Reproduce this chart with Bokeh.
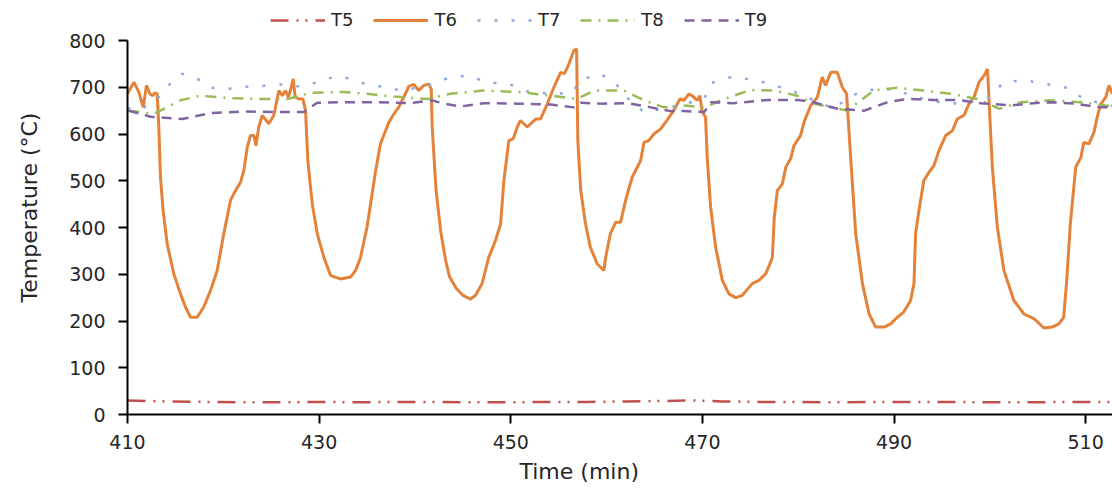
from bokeh.plotting import figure
from bokeh.models import Legend, LegendItem, FixedTicker, Range1d, Title
from bokeh.embed import file_html
from bokeh.resources import INLINE

# ---- data ----
t6_time = [410.0, 410.66, 411.18, 411.64, 411.98, 412.33, 412.64, 412.85, 413.1, 413.27, 413.44, 413.72,
           414.14, 414.83, 415.53, 416.05, 416.58, 417.28, 417.96, 418.66, 419.36, 420.05, 420.75, 421.27,
           421.8, 422.14, 422.5, 422.84, 423.2, 423.4, 423.7, 424.06, 424.75, 425.27, 425.8, 426.15, 426.5,
           426.77, 427.0, 427.3, 427.5, 427.88, 428.3, 428.58, 428.82, 429.28, 429.8, 430.5, 431.2, 432.23,
           433.28, 433.8, 434.32, 435.0, 435.9, 436.4, 436.93, 437.28, 437.8, 438.3, 438.84, 439.36, 439.9,
           440.4, 440.93, 441.45, 441.7, 441.8, 442.2, 442.7, 443.2, 443.6, 444.3, 445.0, 445.8, 446.33,
           447.0, 447.7, 448.4, 448.94, 449.28, 449.8, 450.26, 450.68, 451.02, 451.72, 452.6, 453.1, 453.8,
           454.5, 455.2, 455.6, 456.07, 456.6, 456.87, 457.0, 457.3, 457.8, 458.3, 459.03, 459.72, 459.9,
           460.4, 460.94, 461.46, 461.98, 462.68, 463.2, 463.55, 463.9, 464.4, 464.94, 465.64, 466.3, 467.0,
           467.66, 468.07, 468.6, 469.1, 469.46, 469.74, 469.98, 470.33, 470.5, 470.86, 471.38, 472.08,
           472.77, 473.47, 474.17, 475.2, 475.9, 476.6, 477.0, 477.3, 477.5, 477.82, 478.34, 478.7, 479.2,
           479.55, 480.25, 480.6, 481.3, 482.0, 482.5, 482.86, 483.4, 484.07, 484.6, 485.05, 485.2, 485.47,
           486.0, 486.7, 487.4, 488.08, 488.95, 489.65, 490.35, 491.0, 491.73, 492.08, 492.25, 492.6, 493.1,
           493.64, 494.17, 494.7, 495.4, 496.08, 496.6, 497.3, 497.8, 498.35, 498.87, 499.4, 499.75, 499.9,
           500.26, 500.78, 501.47, 502.5, 503.56, 504.6, 505.65, 506.5, 507.2, 507.7, 508.0, 508.4, 508.96,
           509.5, 509.8, 510.34, 510.87, 511.2, 511.57, 512.1, 512.43, 512.8]
t6_vals = [686, 711, 690, 657, 704, 686, 682, 688, 686, 615, 508, 436,
           365, 301, 258, 230, 208, 208, 230, 265, 308, 387, 458, 479,
           497, 522, 572, 597, 597, 575, 615, 640, 622, 640, 693, 682, 693,
           679, 693, 718, 679, 675, 675, 650, 543, 451, 387, 336, 297, 290,
           294, 308, 336, 401, 522, 579, 607, 625, 643, 657, 679, 702, 706,
           693, 704, 707, 696, 615, 480, 390, 330, 295, 270, 255, 247, 255,
           280, 336, 372, 408, 500, 586, 590, 615, 629, 615, 632, 632, 664,
           700, 732, 729, 750, 779, 782, 586, 479, 408, 358, 322, 308, 336,
           387, 411, 411, 458, 508, 529, 543, 582, 586, 600, 611, 629, 650,
           675, 672, 686, 679, 672, 682, 647, 636, 550, 443, 358, 287,
           258, 250, 255, 280, 287, 301, 320, 336, 422, 479, 493, 529, 547,
           575, 597, 625, 661, 679, 722, 704, 732, 732, 700, 686, 636, 550,
           387, 280, 215, 187, 187, 194, 208, 219, 244, 280, 387, 436, 500,
           518, 533, 565, 597, 607, 632, 640, 664, 679, 711, 725, 739, 679,
           529, 401, 308, 244, 215, 205, 185, 187, 194, 208, 280, 408, 529,
           550, 582, 579, 604, 636, 664, 679, 704, 686]

t5_time = [410, 414, 418, 422, 426, 430, 434, 438, 442, 446, 450, 454, 458, 462, 466, 469, 472, 476,
           480, 484, 488, 492, 496, 500, 504, 508, 512, 513]
t5_vals = [30, 28, 27, 26, 26, 27, 26, 27, 27, 26, 26, 27, 27, 28, 29, 30, 28, 27,
           27, 26, 27, 27, 27, 26, 26, 27, 27, 27]

t7_time = [410, 411, 412.6, 413.6, 414.5, 415.7, 417.3, 418.7, 420.6, 422.4, 424.2, 426.0, 427.7, 428.9,
           430.3, 432.1, 433.6, 435.2, 436.9, 438.7, 441.6, 443.5, 445.5, 447.5, 449.8, 451.9, 454.2,
           456.4, 457.3, 459.4, 461.1, 462.4, 463.9, 466.0, 470.2, 470.9, 473.0, 475.4, 477.1, 479.6,
           483.7, 485.3, 486.9, 489.1, 491.4, 493.6, 495.9, 498.0, 500.1, 501.4, 503.6, 505.8, 508.1,
           509.8, 512.8]
t7_vals = [655, 650, 665, 686, 709, 729, 718, 699, 697, 701, 703, 706, 702, 704,
           716, 724, 716, 704, 701, 692, 706, 720, 725, 711, 707, 690, 686,
           688, 716, 729, 704, 672, 647, 654, 675, 709, 722, 716, 707, 690,
           654, 679, 693, 697, 686, 672, 665, 668, 679, 711, 715, 707, 699,
           675, 660]

t8_time = [410.1, 412.7, 414.1, 415.5, 417.6, 420.4, 423.9, 426.7, 429.1, 432.6, 435.0, 437.8, 441.3,
           443.7, 447.2, 450.7, 454.2, 456.9, 458.7, 461.8, 463.9, 466.0, 468.1, 470.2, 472.3, 475.0,
           477.5, 479.9, 481.6, 485.1, 487.9, 490.3, 493.1, 495.9, 498.7, 501.0, 503.2, 506.3, 509.5,
           512.8]
t8_vals = [650, 643, 657, 672, 682, 677, 675, 675, 688, 690, 686, 680, 675,
           686, 693, 690, 682, 675, 693, 693, 672, 657, 661, 657, 675, 694,
           693, 682, 665, 650, 693, 699, 693, 686, 675, 654, 668, 672, 668,
           659]

t9_time = [410.1, 412.4, 415.7, 418.7, 422.1, 425.6, 428.4, 429.8, 432.6, 436.1, 439.5, 441.8, 443.0,
           444.8, 447.2, 450.7, 454.2, 456.6, 457.3, 459.4, 462.2, 464.6, 466.7, 468.1, 470.2, 470.9,
           473.3, 476.8, 479.9, 481.6, 484.1, 486.9, 489.3, 491.4, 494.2, 496.6, 499.0, 502.2, 503.9,
           506.3, 508.8, 511.6, 512.8]
t9_vals = [650, 637, 632, 645, 648, 647, 647, 667, 668, 668, 666, 672, 665,
           659, 666, 665, 663, 657, 667, 665, 666, 657, 649, 649, 647, 668,
           666, 673, 673, 668, 654, 650, 668, 675, 673, 673, 666, 661, 665,
           668, 665, 657, 657]

x_ticks = [410, 430, 450, 470, 490, 510]
y_ticks = [0, 100, 200, 300, 400, 500, 600, 700, 800]

FONT = "DejaVu Sans"
TXT = "#262626"

# frame runs to the top of the page; the y axis line is bounded at 0..800
p = figure(width=1112, height=488, output_backend="svg", toolbar_location=None,
           x_range=Range1d(410, 512.8), y_range=Range1d(0, 885.6),
           min_border_left=127, min_border_right=0, min_border_top=0, min_border_bottom=74)
p.outline_line_color = None
p.xgrid.visible = False
p.ygrid.visible = False
p.background_fill_color = "white"

r5 = p.line(t5_time, t5_vals, line_color="#C0504D", line_width=2.5, line_dash="18 8 2 7 2 8")
r6 = p.line(t6_time, t6_vals, line_color="#E5823A", line_width=3)
r7 = p.line(t7_time, t7_vals, line_color="#8EAADB", line_width=2.5, line_dash="3 14")
r8 = p.line(t8_time, t8_vals, line_color="#9BBB59", line_width=2.5, line_dash="11 7 2 7")
r9 = p.line(t9_time, t9_vals, line_color="#8064A2", line_width=2.5, line_dash="10 7")

for ax in (p.xaxis, p.yaxis):
    ax.axis_line_color = "black"
    ax.axis_line_width = 2
    ax.major_tick_line_color = "black"
    ax.major_tick_line_width = 2
    ax.major_tick_out = 9
    ax.major_tick_in = 0
    ax.minor_tick_line_color = None
    ax.major_label_text_font = FONT
    ax.major_label_text_font_size = "19px"
    ax.major_label_text_color = TXT
    ax.axis_label_text_font = FONT
    ax.axis_label_text_font_style = "normal"
    ax.axis_label_text_color = TXT

p.yaxis.bounds = (0, 800)
p.xaxis.ticker = FixedTicker(ticks=x_ticks)
p.yaxis.ticker = FixedTicker(ticks=y_ticks)
p.yaxis.axis_label = "Temperature (°C)"
p.yaxis.axis_label_text_font_size = "22px"
p.xaxis.major_label_standoff = 11
p.yaxis.major_label_standoff = 13
p.yaxis.axis_label_standoff = 24

# x axis title, placed like the reference (left of the frame centre)
xtitle = Title(text="Time (min)", align="left", offset=392, standoff=10,
               text_font=FONT, text_font_size="22px", text_font_style="normal",
               text_color=TXT)
p.add_layout(xtitle, "below")

legend = Legend(items=[LegendItem(label="T5", renderers=[r5]),
                       LegendItem(label="T6", renderers=[r6]),
                       LegendItem(label="T7", renderers=[r7]),
                       LegendItem(label="T8", renderers=[r8]),
                       LegendItem(label="T9", renderers=[r9])],
                orientation="horizontal", location=(143, 384))
legend.padding = 0
legend.margin = 0
legend.spacing = 20
legend.glyph_width = 55
legend.glyph_height = 20
legend.label_standoff = 6
legend.label_text_font = FONT
legend.label_text_font_size = "18px"
legend.label_text_color = TXT
legend.border_line_color = None
legend.background_fill_alpha = 0
p.add_layout(legend, "center")

open("out.html", "w").write(file_html(p, INLINE))
